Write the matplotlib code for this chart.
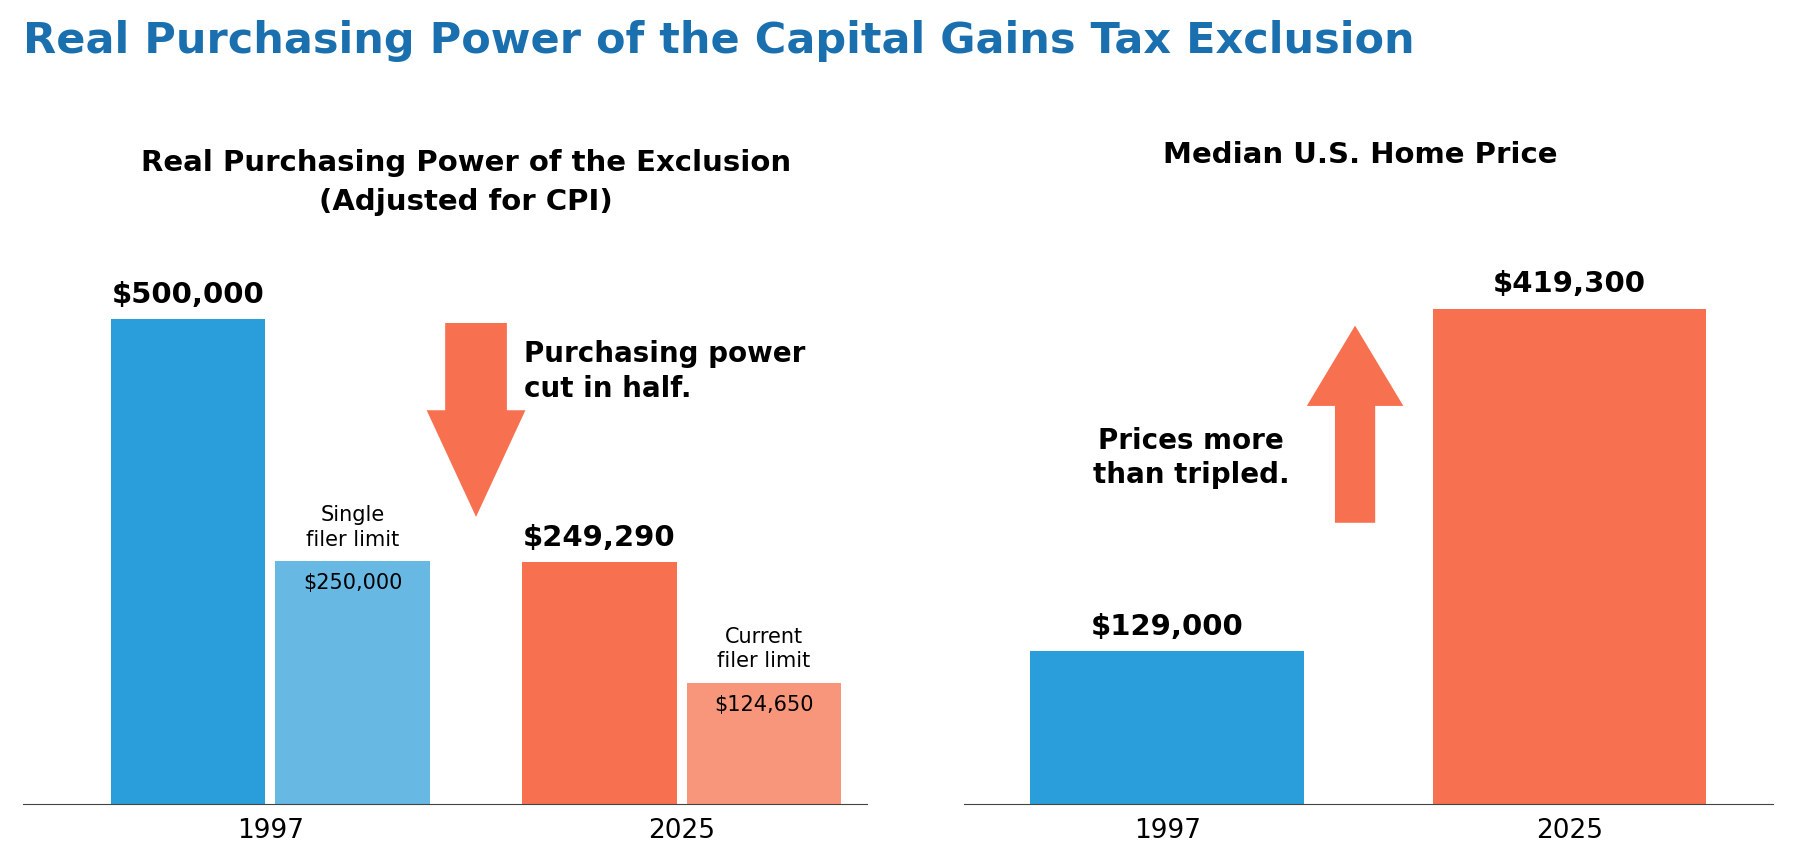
import matplotlib.pyplot as plt
from matplotlib.patches import FancyArrow

# data
years = ['1997', '2025']
exclusion_joint = [500000, 249290]
exclusion_single = [250000, 124650]
home_price = [129000, 419300]

blue, lblue = '#2a9ddb', '#67b9e4'
red, lred = '#f7704f', '#f8967b'

fig = plt.figure(figsize=(18.06, 8.68), dpi=100)
fig.text(0.013, 0.953, 'Real Purchasing Power of the Capital Gains Tax Exclusion',
         fontsize=31, fontweight='bold', color='#1a6fae', va='center')

# left panel
ax = fig.add_axes([0.013, 0.074, 0.467, 0.67])
w, off = 0.375, 0.2
ax.bar([0 - off, 1 - off], exclusion_joint, w, color=[blue, red])
ax.bar([0 + off, 1 + off], exclusion_single, w, color=[lblue, lred])
ax.set_xlim(-0.6, 1.45)
ax.set_ylim(0, 600000)
for i in range(2):
    ax.text(i - off, exclusion_joint[i] + 10000, f'${exclusion_joint[i]:,}',
            ha='center', va='bottom', fontsize=21, fontweight='bold')
    ax.text(i + off, exclusion_single[i] - 12000, f'${exclusion_single[i]:,}',
            ha='center', va='top', fontsize=15)
ax.text(off, exclusion_single[0] + 12000, 'Single\nfiler limit', ha='center', va='bottom',
        fontsize=15, linespacing=1.3)
ax.text(1 + off, exclusion_single[1] + 12000, 'Current\nfiler limit', ha='center', va='bottom',
        fontsize=15, linespacing=1.3)
ax.add_patch(FancyArrow(0.5, 496000, 0, -200000, width=0.15, head_width=0.24,
                        head_length=110000, length_includes_head=True, color=red, lw=0))
ax.text(0.616, 478000, 'Purchasing power\ncut in half.', ha='left', va='top',
        fontsize=20, fontweight='bold', linespacing=1.3)
fig.text(0.258, 0.79, 'Real Purchasing Power of the Exclusion\n(Adjusted for CPI)',
         ha='center', va='center', fontsize=21, fontweight='bold', linespacing=1.5)

# right panel
ax2 = fig.add_axes([0.534, 0.074, 0.448, 0.67])
ax2.bar([0, 1], home_price, 0.68, color=[blue, red])
ax2.set_xlim(-0.504, 1.507)
ax2.set_ylim(0, 492600)
for i in range(2):
    ax2.text(i, home_price[i] + 9000, f'${home_price[i]:,}', ha='center', va='bottom',
             fontsize=21, fontweight='bold')
ax2.add_patch(FancyArrow(0.467, 238000, 0, 167000, width=0.1, head_width=0.24,
                         head_length=68000, length_includes_head=True, color=red, lw=0))
ax2.text(0.06, 293000, 'Prices more\nthan tripled.', ha='center', va='center',
         fontsize=20, fontweight='bold', linespacing=1.3)
fig.text(0.753, 0.821, 'Median U.S. Home Price', ha='center', va='center',
         fontsize=21, fontweight='bold')

for a in (ax, ax2):
    a.set_xticks([0, 1])
    a.set_xticklabels(years, fontsize=19)
    a.set_yticks([])
    a.tick_params(axis='x', length=0, pad=10)
    for s in ('top', 'right', 'left'):
        a.spines[s].set_visible(False)
    a.spines['bottom'].set_color('#444444')

fig.savefig('out.png', dpi=100)
